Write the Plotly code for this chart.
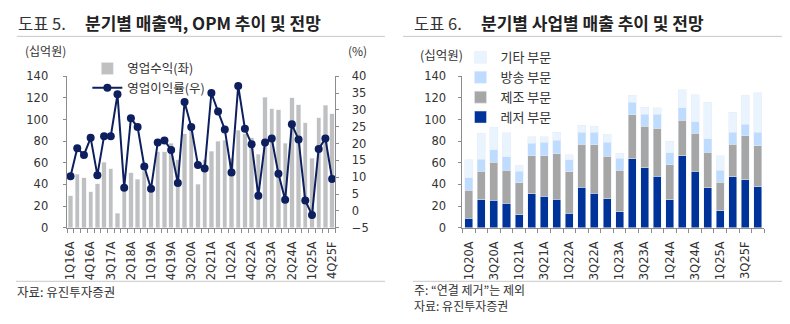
import plotly.graph_objects as go

W, H = 790, 324

# ---------------- Left chart data (도표 5) ----------------
q_left = ["1Q16A", "2Q16A", "3Q16A", "4Q16A", "1Q17A", "2Q17A", "3Q17A", "4Q17A",
          "1Q18A", "2Q18A", "3Q18A", "4Q18A", "1Q19A", "2Q19A", "3Q19A", "4Q19A",
          "1Q20A", "2Q20A", "3Q20A", "4Q20A", "1Q21A", "2Q21A", "3Q21A", "4Q21A",
          "1Q22A", "2Q22A", "3Q22A", "4Q22A", "1Q23A", "2Q23A", "3Q23A", "4Q23A",
          "1Q24A", "2Q24A", "3Q24A", "4Q24A", "1Q25A", "2Q25A", "3Q25F", "4Q25F"]
revenue = [29.5, 49.6, 46.4, 33.4, 40.8, 60.5, 54.3, 13.3,
           38.0, 50.8, 44.6, 52.0, 38.0, 70.3, 70.3, 78.0,
           62.6, 87.0, 92.0, 40.0, 63.0, 70.8, 80.0, 80.8,
           64.0, 90.0, 87.0, 83.0, 68.0, 120.7, 110.0, 109.0,
           78.0, 120.3, 113.7, 96.8, 64.2, 101.4, 113.2, 105.4]
opm = [10.3, 18.6, 16.6, 21.7, 10.6, 22.2, 22.2, 34.6,
       6.9, 27.5, 24.9, 13.2, 6.6, 20.3, 20.9, 18.1,
       8.3, 32.3, 24.9, 13.6, 12.6, 35.0, 29.5, 24.2,
       11.4, 37.1, 24.4, 19.8, 4.5, 20.3, 21.5, 11.0,
       3.3, 25.7, 21.2, 3.1, -1.2, 18.4, 21.5, 9.5]
left_labels = ["1Q16A", "4Q16A", "3Q17A", "2Q18A", "1Q19A", "4Q19A", "3Q20A",
               "2Q21A", "1Q22A", "4Q22A", "3Q23A", "2Q24A", "1Q25A", "4Q25F"]

# ---------------- Right chart data (도표 6) ----------------
q_right = ["1Q20A", "2Q20A", "3Q20A", "4Q20A", "1Q21A", "2Q21A", "3Q21A", "4Q21A",
           "1Q22A", "2Q22A", "3Q22A", "4Q22A", "1Q23A", "2Q23A", "3Q23A", "4Q23A",
           "1Q24A", "2Q24A", "3Q24A", "4Q24A", "1Q25A", "2Q25A", "3Q25F", "4Q25F"]
leisure = [8.9, 25.7, 25.4, 22.7, 11.8, 31.6, 28.9, 26.3, 13.6, 37.2, 31.9, 26.6,
           14.8, 63.8, 55.5, 47.5, 25.7, 66.7, 52.0, 36.9, 15.7, 47.0, 44.3, 37.8]
manufacturing = [25.9, 26.6, 35.1, 30.2, 29.8, 34.9, 37.8, 41.9, 38.1, 39.9, 44.6, 39.6,
                 38.4, 40.5, 38.4, 44.6, 32.5, 32.5, 35.4, 32.8, 26.5, 30.1, 40.5, 37.8]
broadcast = [11.6, 10.9, 11.6, 12.7, 10.7, 11.5, 12.2, 12.7, 11.2, 11.2, 11.5, 12.9,
             10.9, 11.7, 10.9, 12.7, 10.9, 11.5, 10.6, 12.4, 11.0, 11.2, 10.9, 12.4]
others = [16.5, 23.9, 20.9, 22.1, 5.6, 6.2, 5.3, 7.1, 4.4, 6.2, 5.9, 7.4,
          4.6, 6.6, 6.5, 5.9, 10.6, 16.9, 24.9, 33.7, 13.3, 18.6, 26.9, 36.9]
right_labels = ["1Q20A", "3Q20A", "1Q21A", "3Q21A", "1Q22A", "3Q22A",
                "1Q23A", "3Q23A", "1Q24A", "3Q24A", "1Q25A", "3Q25F"]

KFONT = "Noto Sans CJK KR"
TFONT = "DejaVu Sans, Noto Sans CJK KR"
TXT = "#333333"
AX = "#8c8c8c"

def px(x):
    return x / W

def py(y):
    return 1 - y / H

fig = go.Figure()

fig.add_trace(go.Bar(x=q_left, y=revenue, name="영업수익(좌)", marker_color="#c0c0c0",
                     xaxis="x", yaxis="y", legend="legend"))
fig.add_trace(go.Scatter(x=q_left, y=opm, name="영업이익률(우)", mode="lines+markers",
                         line=dict(color="#0d1f5e", width=2),
                         marker=dict(size=8, color="#0d1f5e"),
                         xaxis="x", yaxis="y2", legend="legend"))

seg = [("레저 부문", leisure, "#003399", 4),
       ("제조 부문", manufacturing, "#a6a6a6", 3),
       ("방송 부문", broadcast, "#bddcff", 2),
       ("기타 부문", others, "#eaf4ff", 1)]
for name, vals, col, rank in seg:
    fig.add_trace(go.Bar(x=q_right, y=vals, name=name, marker_color=col,
                         xaxis="x2", yaxis="y3", legend="legend2", legendrank=rank))

ydom = [py(230.7), py(72.3)]
tickfont = dict(family=TFONT, size=11.5, color=TXT)

fig.update_layout(
    width=W, height=H,
    margin=dict(l=0, r=0, t=0, b=0),
    paper_bgcolor="white", plot_bgcolor="white",
    font=dict(family=KFONT, color=TXT),
    barmode="stack", bargap=0.36,
    showlegend=True,
    xaxis=dict(domain=[px(64), px(335)], anchor="y", type="category",
               tickmode="array", tickvals=q_left,
               ticktext=[q if q in left_labels else "" for q in q_left],
               tickson="boundaries", ticks="outside", ticklen=4, tickcolor=AX,
               tickangle=-90, tickfont=tickfont, showline=True, linecolor=AX,
               showgrid=False, zeroline=False, range=[-0.6, 39.5],
               ticklabelstandoff=8),
    yaxis=dict(domain=ydom, anchor="x", range=[0, 140], dtick=20,
               ticks="outside", ticklen=3, tickcolor=AX, tickfont=tickfont,
               showline=True, linecolor=AX, showgrid=False, zeroline=False,
               ticklabelstandoff=12),
    yaxis2=dict(domain=ydom, anchor="x", overlaying="y", side="right",
                range=[-5, 40], dtick=5, ticks="outside", ticklen=3, tickcolor=AX,
                tickfont=tickfont, showline=True, linecolor=AX, showgrid=False,
                zeroline=False, ticklabelstandoff=10),
    xaxis2=dict(domain=[px(463), px(767)], anchor="y3", type="category",
                tickmode="array", tickvals=q_right,
                ticktext=[q if q in right_labels else "" for q in q_right],
                tickson="boundaries", ticks="outside", ticklen=4, tickcolor=AX,
                tickangle=-90, tickfont=tickfont, showline=True, linecolor=AX,
                showgrid=False, zeroline=False, ticklabelstandoff=8),
    yaxis3=dict(domain=ydom, anchor="x2", range=[0, 140], dtick=20,
                ticks="outside", ticklen=3, tickcolor=AX, tickfont=tickfont,
                showline=True, linecolor=AX, showgrid=False, zeroline=False,
                ticklabelstandoff=10),
    legend=dict(x=px(85), y=py(49), xanchor="left", yanchor="top",
                bgcolor="rgba(0,0,0,0)", font=dict(family=KFONT, size=12.5, color=TXT),
                itemwidth=30, traceorder="normal"),
    legend2=dict(x=px(461), y=py(37), xanchor="left", yanchor="top",
                 bgcolor="rgba(0,0,0,0)", font=dict(family=KFONT, size=13, color=TXT),
                 itemwidth=30, traceorder="normal"),
)

ann = []
def text(x, y, s, size, bold=False, anchor="left"):
    ann.append(dict(xref="paper", yref="paper", x=px(x), y=py(y), text=(f"<b>{s}</b>" if bold else s),
                    showarrow=False, xanchor=anchor, yanchor="middle",
                    font=dict(family=KFONT, size=size, color="#222222" if bold else TXT)))

text(13, 16.5, "도표 5.", 16.5)
text(81, 16.5, "분기별 매출액, OPM 추이 및 전망", 17, bold=True)
text(412, 16.5, "도표 6.", 16.5)
text(480, 16.5, "분기별 사업별 매출 추이 및 전망", 17, bold=True)
text(20, 45, "(십억원)", 12)
text(346, 45, "(%)", 12)
text(418, 50, "(십억원)", 12.5)
text(12, 297, "자료: 유진투자증권", 12.5)
text(412, 295, "주: “연결 제거”는 제외", 12)
text(412, 312, "자료: 유진투자증권", 12)
fig.update_layout(annotations=ann)

shapes = []
for x0, x1, y in [(14, 385, 30.7), (403, 785, 30.7), (13, 385, 286.7), (413, 785, 286.7)]:
    shapes.append(dict(type="line", xref="paper", yref="paper", x0=px(x0), x1=px(x1),
                       y0=py(y), y1=py(y), line=dict(color="#c8c8c8", width=1)))
fig.update_layout(shapes=shapes)

fig.write_html("out.html")
